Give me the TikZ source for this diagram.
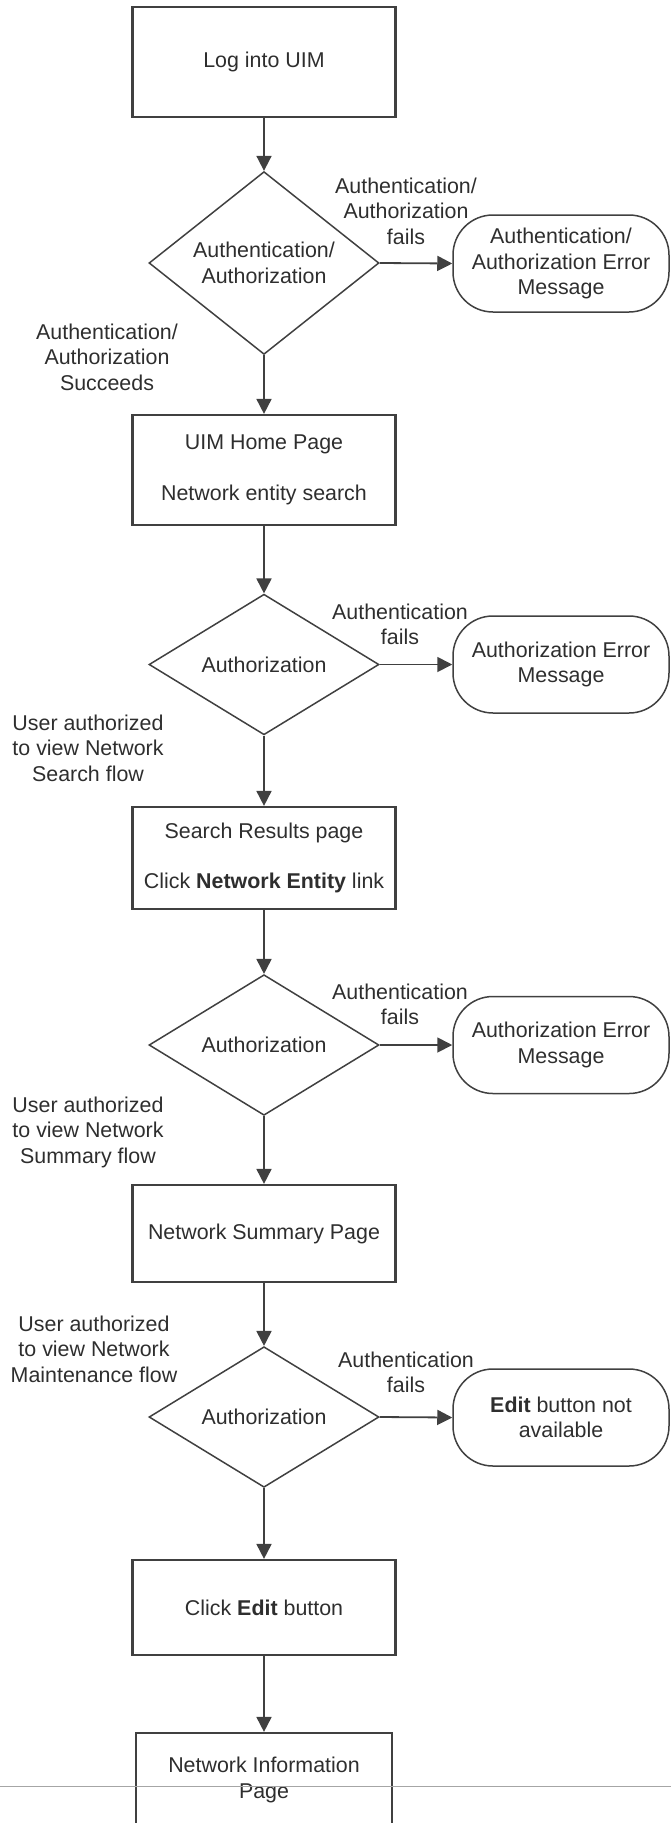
\documentclass[tikz,border=0pt]{standalone}
\usepackage{fontspec}
\setmainfont{Liberation Sans}
\usetikzlibrary{shapes.geometric,arrows.meta}
\definecolor{ligne}{HTML}{404040}
\definecolor{texte}{HTML}{2E2E2E}
\tikzset{
  pagebox/.style={draw=ligne, line width=2.2pt, minimum width=263pt, inner sep=0pt, align=center},
  decision/.style={draw=ligne, line width=1.5pt, diamond, minimum width=230pt, inner sep=0pt, align=center},
  errmsg/.style={draw=ligne, line width=1.5pt, rounded corners=40pt, minimum width=216pt, minimum height=97pt, inner sep=0pt, align=center},
  lbl/.style={align=center, inner sep=0pt},
  flow/.style={draw=ligne, line width=1.8pt, -{Triangle[length=15pt,width=15pt]}}
}
\begin{document}
\begin{tikzpicture}[x=1pt, y=-1pt, every node/.style={font=\fontsize{21.4pt}{25.5pt}\selectfont, text=texte}]
\useasboundingbox (0,0) rectangle (671,1823);
\def\cx{264}

% pages
\node[pagebox, minimum height=110pt] (login) at (\cx,62) {Log into UIM};
\node[pagebox, minimum height=110pt] (home) at (\cx,470) {UIM Home Page\\[26pt]Network entity search};
\node[pagebox, minimum height=102pt] (results) at (\cx,858) {Search Results page\\[24pt]Click \textbf{Network Entity} link};
\node[pagebox, minimum height=97pt] (summary) at (\cx,1233.5) {Network Summary Page};
\node[pagebox, minimum height=95pt] (edit) at (\cx,1607.5) {Click \textbf{Edit} button};
\node[pagebox, minimum height=94pt, minimum width=256pt] (info) at (\cx,1780) {Network Information\\Page};

% decisions
\node[decision, minimum height=150pt] (auth1) at (\cx,263) {Authentication/\\Authorization};
\node[decision, minimum height=131pt] (auth2) at (\cx,664.5) {Authorization};
\node[decision, minimum height=126pt] (auth3) at (\cx,1045) {Authorization};
\node[decision, minimum height=126pt] (auth4) at (\cx,1417) {Authorization};

% error messages
\node[errmsg] (err1) at (561,263.5) {Authentication/\\Authorization Error\\Message};
\node[errmsg] (err2) at (561,664.5) {Authorization Error\\Message};
\node[errmsg] (err3) at (561,1045) {Authorization Error\\Message};
\node[errmsg] (err4) at (561,1417.5) {\textbf{Edit} button not\\available};

% connectors
\draw[flow] (login) -- (auth1);
\draw[flow] (auth1) -- (home);
\draw[flow] (home) -- (auth2);
\draw[flow] (auth2) -- (results);
\draw[flow] (results) -- (auth3);
\draw[flow] (auth3) -- (summary);
\draw[flow] (summary) -- (auth4);
\draw[flow] (auth4) -- (edit);
\draw[flow] (edit) -- (info);
\foreach \i in {1,...,4} {
  \draw[flow] (auth\i.east) -- (err\i.west);
}

% labels
\node[lbl] (fail1) at (406,211) {Authentication/\\Authorization\\fails};
\node[lbl] (fail2) at (400,624.5) {Authentication\\fails};
\node[lbl] (fail3) at (400,1004.5) {Authentication\\fails};
\node[lbl] (fail4) at (406,1372.5) {Authentication\\fails};
\node[lbl] (ok1) at (107,357) {Authentication/\\Authorization\\Succeeds};
\node[lbl] (ok2) at (88,748) {User authorized\\to view Network\\Search flow};
\node[lbl] (ok3) at (88,1132) {User authorized\\to view Network\\Summary flow};
\node[lbl] (ok4) at (94,1349) {User authorized\\to view Network\\Maintenance flow};

% page edge
\draw[gray!70, line width=1pt] (0,1786) -- (671,1786);
\end{tikzpicture}
\end{document}
